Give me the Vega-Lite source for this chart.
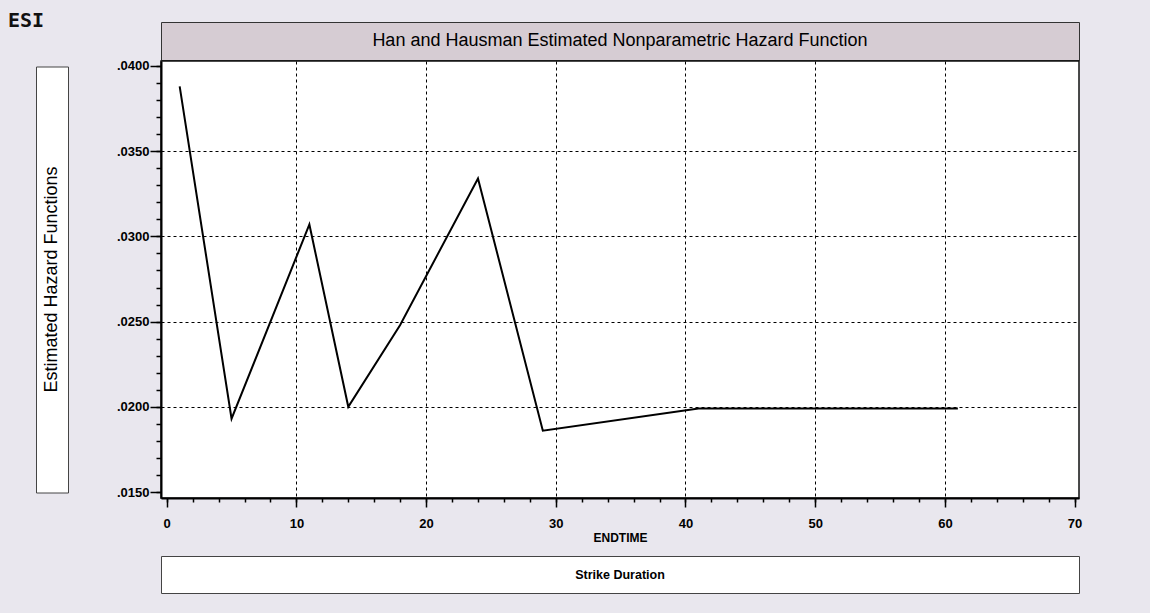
{
  "$schema": "https://vega.github.io/schema/vega-lite/v6.json",
  "background": "#E9E7EE",
  "padding": {"left": 8, "top": 10, "right": 69, "bottom": 21},
  "title": {"text": "ESI", "anchor": "start", "frame": "group", "font": "DejaVu Sans Mono", "fontSize": 20, "fontWeight": "bold", "color": "#111111", "dx": -28, "offset": -23, "dy": 6, "baseline": "bottom"},
  "spacing": -6,
  "vconcat": [
    {
      "hconcat": [
        {"width": 32, "height": 38, "data": {"values": [{"label": ""}]}, "mark": {"type": "text"}, "encoding": {"text": {"field": "label"}}, "view": {"stroke": null}},
        {"width": 918, "height": 38, "data": {"values": [{"label": "Han and Hausman Estimated Nonparametric Hazard Function"}]}, "mark": {"type": "text", "font": "Liberation Sans", "fontSize": 18, "color": "#000000"}, "encoding": {"text": {"field": "label"}}, "view": {"fill": "#D6CCD3", "stroke": "#333333", "strokeWidth": 1}}
      ],
      "spacing": 93,
      "bounds": "flush"
    },
    {
      "vconcat": [
        {
          "hconcat": [
            {"width": 32, "height": 426, "data": {"values": [{"label": "Estimated Hazard Functions"}]}, "mark": {"type": "text", "angle": 270, "font": "Liberation Sans", "fontSize": 18, "color": "#000000"}, "encoding": {"text": {"field": "label"}}, "view": {"fill": "#FFFFFF", "stroke": "#444444", "strokeWidth": 1}},
            {
              "width": 918,
              "height": 437,
              "view": {"fill": "#FFFFFF", "stroke": "#111111", "strokeWidth": 1.5},
              "data": {"values": [
                {"endtime": 1, "hazard": 0.0388},
                {"endtime": 5, "hazard": 0.0193},
                {"endtime": 11, "hazard": 0.0307},
                {"endtime": 14, "hazard": 0.0200},
                {"endtime": 18, "hazard": 0.0248},
                {"endtime": 24, "hazard": 0.0334},
                {"endtime": 29, "hazard": 0.0186},
                {"endtime": 41, "hazard": 0.0199},
                {"endtime": 61, "hazard": 0.0199}
              ]},
              "layer": [
                {
                  "mark": {"type": "line", "color": "#000000", "strokeWidth": 2},
                  "encoding": {
                    "x": {"field": "endtime", "type": "quantitative", "scale": {"domain": [-0.44, 70.34], "nice": false, "zero": false},
                      "axis": {"values": [0, 10, 20, 30, 40, 50, 60, 70], "format": "d", "title": "ENDTIME", "orient": "bottom",
                        "labelFont": "Liberation Sans", "labelFontSize": 13, "labelFontWeight": "bold", "labelColor": "#000000", "labelPadding": 10,
                        "titleFont": "Liberation Sans", "titleFontSize": 12, "titleFontWeight": "bold", "titleColor": "#000000", "titlePadding": 2,
                        "tickSize": 9, "tickColor": "#000000", "tickWidth": 1.5, "domainColor": "#000000", "domainWidth": 2,
                        "grid": true, "gridColor": "#000000", "gridDash": [3, 3], "gridWidth": 1,
                        "gridOpacity": {"condition": {"test": "datum.value < 0.5 || datum.value > 69.5", "value": 0}, "value": 1}}},
                    "y": {"field": "hazard", "type": "quantitative", "scale": {"domain": [0.014648, 0.040293], "nice": false, "zero": false},
                      "axis": {"values": [0.015, 0.02, 0.025, 0.03, 0.035, 0.04], "labelExpr": "slice(format(datum.value, '.4f'), 1)", "title": null, "orient": "left",
                        "labelFont": "Liberation Sans", "labelFontSize": 13, "labelFontWeight": "bold", "labelColor": "#000000", "labelPadding": 1,
                        "tickSize": 11, "tickColor": "#000000", "tickWidth": 1.5, "domainColor": "#000000", "domainWidth": 2,
                        "grid": true, "gridColor": "#000000", "gridDash": [3, 3], "gridWidth": 1,
                        "gridOpacity": {"condition": {"test": "datum.value < 0.0151 || datum.value > 0.0399", "value": 0}, "value": 1}}}
                  }
                },
                {
                  "mark": {"type": "line", "opacity": 0},
                  "encoding": {
                    "x": {"field": "endtime", "type": "quantitative",
                      "axis": {"values": [0, 2, 4, 6, 8, 10, 12, 14, 16, 18, 20, 22, 24, 26, 28, 30, 32, 34, 36, 38, 40, 42, 44, 46, 48, 50, 52, 54, 56, 58, 60, 62, 64, 66, 68, 70], "orient": "bottom", "labels": false, "title": null, "grid": false, "domain": false, "tickSize": 4, "tickColor": "#000000", "tickWidth": 1.5}},
                    "y": {"field": "hazard", "type": "quantitative",
                      "axis": {"values": [0.015, 0.016, 0.017, 0.018, 0.019, 0.02, 0.021, 0.022, 0.023, 0.024, 0.025, 0.026, 0.027, 0.028, 0.029, 0.03, 0.031, 0.032, 0.033, 0.034, 0.035, 0.036, 0.037, 0.038, 0.039, 0.04], "orient": "left", "labels": false, "title": null, "grid": false, "domain": false, "tickSize": 5, "tickColor": "#000000", "tickWidth": 1.5}}
                  }
                }
              ],
              "resolve": {"axis": {"x": "independent", "y": "independent"}}
            }
          ],
          "spacing": 93,
          "bounds": "flush",
          "center": true
        },
        {
          "hconcat": [
            {"width": 32, "height": 37, "data": {"values": [{"label": ""}]}, "mark": {"type": "text"}, "encoding": {"text": {"field": "label"}}, "view": {"stroke": null}},
            {"width": 918, "height": 37, "data": {"values": [{"label": "Strike Duration"}]}, "mark": {"type": "text", "font": "Liberation Sans", "fontSize": 12.5, "fontWeight": "bold", "color": "#000000"}, "encoding": {"text": {"field": "label"}}, "view": {"fill": "#FFFFFF", "stroke": "#444444", "strokeWidth": 1}}
          ],
          "spacing": 93,
          "bounds": "flush"
        }
      ],
      "spacing": 11
    }
  ]
}
